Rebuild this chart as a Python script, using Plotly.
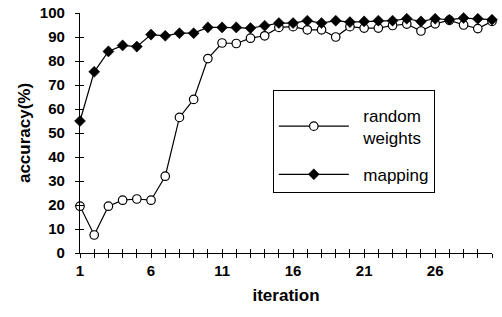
import plotly.graph_objects as go

iterations = list(range(1, 31))
random_weights = [19.5, 7.5, 19.5, 22, 22.5, 22, 32, 56.5, 64, 81, 87.5, 87.3, 89.5, 90.5, 94,
                  94.3, 93, 93, 90, 94.3, 93.7, 93.7, 94.8, 95.4, 92.5, 95.5, 97, 95, 93.5, 96.5]
mapping = [55, 75.5, 84, 86.5, 86, 91, 90.5, 91.6, 91.6, 94, 94, 94, 93.7, 94.7, 95.8,
           95.8, 96.8, 95.8, 96.8, 96.2, 96.5, 96.8, 96.8, 97.6, 96.5, 97.6, 97.2, 97.9, 97.6, 97.2]
x_tick_vals = list(range(1, 31))
x_tick_text = [str(v) if (v - 1) % 5 == 0 else "" for v in x_tick_vals]
y_tick_vals = list(range(0, 101, 10))

FONT = "Arial, Liberation Sans, sans-serif"

fig = go.Figure()
fig.add_trace(go.Scatter(
    x=iterations, y=random_weights, name="&nbsp;&nbsp;random<br>&nbsp;&nbsp;weights",
    mode="lines+markers",
    line=dict(color="black", width=1.2),
    marker=dict(symbol="circle", size=8.5, color="white", line=dict(color="black", width=1.2)),
    cliponaxis=False, legendgroup="a"))
fig.add_trace(go.Scatter(
    x=iterations, y=mapping, name="&nbsp;&nbsp;mapping", mode="lines+markers",
    line=dict(color="black", width=1.2),
    marker=dict(symbol="diamond", size=8.5, color="black", line=dict(color="black", width=0.5)),
    cliponaxis=False, legendgroup="b"))
# empty trace to anchor the overlay axes (inner half of crossing ticks)
fig.add_trace(go.Scatter(x=[], y=[], xaxis="x2", yaxis="y2", showlegend=False))

fig.update_layout(
    width=502, height=317,
    margin=dict(l=80, r=10, t=13, b=64),
    paper_bgcolor="white", plot_bgcolor="white",
    font=dict(family=FONT, color="black"),
    xaxis=dict(range=[1, 30], tickvals=x_tick_vals, ticktext=x_tick_text, automargin=False,
               ticks="outside", ticklen=4, tickcolor="black", tickwidth=1,
               showline=True, linecolor="black", linewidth=1.2, showgrid=False, zeroline=False,
               tickfont=dict(size=15, family=FONT, weight="bold"),
               title=dict(text="<b>iteration</b>", font=dict(size=17), standoff=11)),
    yaxis=dict(range=[0, 100], tickvals=y_tick_vals, automargin=False,
               ticks="outside", ticklen=4, tickcolor="black", tickwidth=1, ticklabelstandoff=7,
               showline=True, linecolor="black", linewidth=1.2, showgrid=False, zeroline=False,
               tickfont=dict(size=15, family=FONT, weight="bold"),
               title=dict(text="<b>accuracy(%)</b>", font=dict(size=17), standoff=4)),
    xaxis2=dict(range=[1, 30], overlaying="x", anchor="y2", tickvals=x_tick_vals, automargin=False,
                showticklabels=False, ticks="inside", ticklen=4, tickcolor="black",
                showline=False, showgrid=False, zeroline=False),
    yaxis2=dict(range=[0, 100], overlaying="y", anchor="x2", tickvals=y_tick_vals, automargin=False,
                showticklabels=False, ticks="inside", ticklen=4, tickcolor="black",
                showline=False, showgrid=False, zeroline=False),
    legend=dict(x=0.468, y=0.679, xanchor="left", yanchor="top",
                bordercolor="black", borderwidth=1, bgcolor="white",
                title=dict(text="&nbsp;", font=dict(size=5)),
                font=dict(size=17, family=FONT), tracegroupgap=12, itemwidth=70),
    showlegend=True,
)

fig.write_html("out.html", config={"displayModeBar": False},
               post_script="document.body.style.margin='0';document.body.style.overflow='hidden';")
